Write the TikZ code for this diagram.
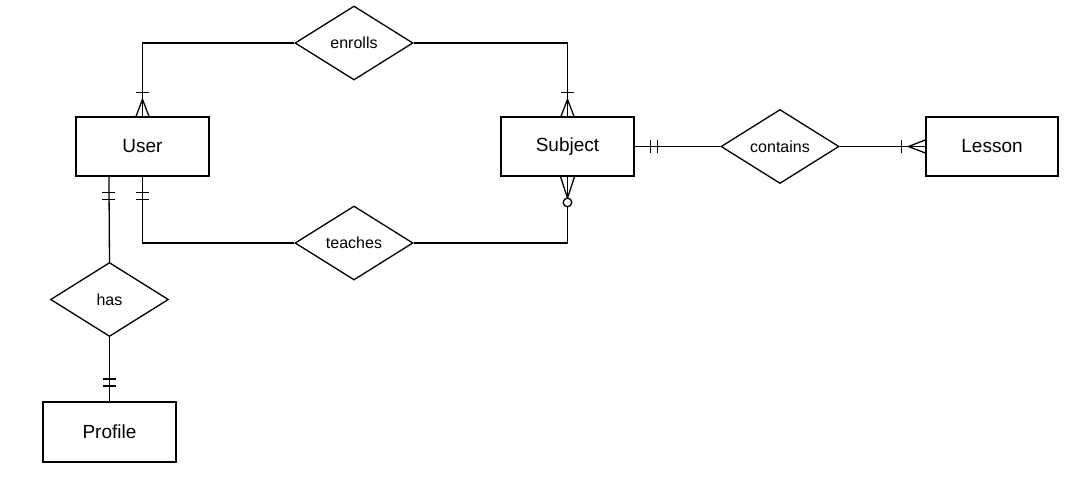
\documentclass[tikz,border=0pt]{standalone}
\usepackage{fontspec}
\setmainfont{Liberation Sans}
\usetikzlibrary{shapes.geometric,calc}
\begin{document}
\begin{tikzpicture}[x=1pt,y=-1pt,line width=1.3pt,
  entity/.style={draw,rectangle,minimum width=133pt,minimum height=59pt,inner sep=0pt,
    font=\fontsize{19}{22}\selectfont},
  relation/.style={draw,diamond,minimum width=118pt,minimum height=74pt,inner sep=0pt,
    font=\fontsize{16}{19}\selectfont},
  % crow's foot end markers, drawn with the box edge at the origin
  % and the connector running along +y away from the box
  onemany/.pic={\draw (-6.5pt,0pt) -- (0pt,17pt) -- (6.5pt,0pt);
                \draw (-6.5pt,24pt) -- (6.5pt,24pt);},
  zeromany/.pic={\draw (-7pt,0pt) -- (0pt,21.5pt) -- (7pt,0pt);
                 \draw[fill=white] (0pt,25.8pt) circle[radius=4.3pt];},
  onlyone/.pic={\draw (-6.5pt,15.5pt) -- (6.5pt,15.5pt)
                      (-6.5pt,22.5pt) -- (6.5pt,22.5pt);}
]
\path[fill=white] (0,0) rectangle (1082,480);
\useasboundingbox (0,0) rectangle (1082,480);

% entities
\node[entity] (User) at (142.5,146.5) {User};
\node[entity] (Subject) at (567.5,146.5) {Subject};
\node[entity,minimum width=132pt] (Lesson) at (992,146.5) {Lesson};
\node[entity,minimum height=60pt] (Profile) at (109.5,432) {Profile};

% relationships
\node[relation] (enrolls) at (354,43) {enrolls};
\node[relation] (teaches) at (354,243) {teaches};
\node[relation] (has) at (109.5,299.5) {has};
\node[relation] (contains) at (780,146.5) {contains};

\coordinate (userhas) at ($(User.south west)!0.25!(User.south east)$);

% connectors
\draw (User.north) |- (enrolls.west);
\draw (enrolls.east) -| (Subject.north);
\draw (User.south) |- (teaches.west);
\draw (teaches.east) -| (Subject.south);
\draw (userhas) -- (has.north);
\draw (has.south) -- (Profile.north);
\draw (Subject.east) -- (contains.west);
\draw (contains.east) -- (Lesson.west);

% cardinality markers
\pic at (User.north) {onemany};
\pic at (Subject.north) {onemany};
\pic[rotate=180] at (Subject.south) {zeromany};
\pic[rotate=90] at (Lesson.west) {onemany};
\pic[rotate=180] at (User.south) {onlyone};
\pic[rotate=180] at (userhas) {onlyone};
\pic at (Profile.north) {onlyone};
\pic[rotate=-90] at (Subject.east) {onlyone};
\end{tikzpicture}
\end{document}
